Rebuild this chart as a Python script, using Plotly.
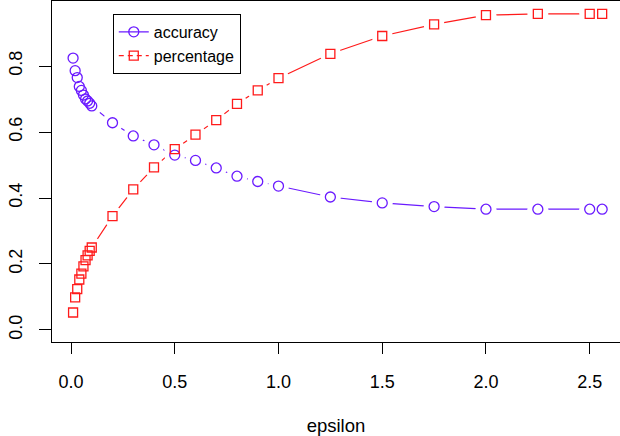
import plotly.graph_objects as go

epsilon = [0.01, 0.02, 0.03, 0.04, 0.05, 0.06, 0.07, 0.08, 0.09, 0.1,
           0.2, 0.3, 0.4, 0.5, 0.6, 0.7, 0.8, 0.9, 1.0,
           1.25, 1.5, 1.75, 2.0, 2.25, 2.5, 2.56]
accuracy = [0.824, 0.786, 0.765, 0.738, 0.726, 0.712, 0.700, 0.694, 0.687, 0.679,
            0.628, 0.588, 0.561, 0.530, 0.514, 0.491, 0.466, 0.450, 0.436,
            0.403, 0.385, 0.374, 0.366, 0.366, 0.366, 0.366]
percentage = [0.053, 0.099, 0.124, 0.153, 0.171, 0.193, 0.212, 0.226, 0.240, 0.250,
              0.345, 0.426, 0.493, 0.548, 0.592, 0.636, 0.685, 0.726, 0.763,
              0.837, 0.891, 0.926, 0.954, 0.958, 0.958, 0.958]
x_ticks = [0.0, 0.5, 1.0, 1.5, 2.0, 2.5]
x_ticklabels = ["0.0", "0.5", "1.0", "1.5", "2.0", "2.5"]
y_ticks = [0.0, 0.2, 0.4, 0.6, 0.8]
y_ticklabels = ["0.0", "0.2", "0.4", "0.6", "0.8"]

BLUE = "#6A1AFF"
RED = "#FF1A1A"
FONT = "Liberation Sans, Arial, sans-serif"

fig = go.Figure()
# connecting lines
fig.add_trace(go.Scatter(x=epsilon, y=accuracy, mode="lines",
                         line=dict(color=BLUE, width=1.2), showlegend=False, hoverinfo="skip"))
fig.add_trace(go.Scatter(x=epsilon, y=percentage, mode="lines",
                         line=dict(color=RED, width=1.2), showlegend=False, hoverinfo="skip"))
# white gaps around points (type "b" look)
for ys in (accuracy, percentage):
    fig.add_trace(go.Scatter(x=epsilon, y=ys, mode="markers",
                             marker=dict(symbol="circle", size=21, color="white", line=dict(width=0)),
                             showlegend=False, hoverinfo="skip"))
# point symbols
fig.add_trace(go.Scatter(x=epsilon, y=accuracy, mode="markers",
                         marker=dict(symbol="circle-open", size=10, color=BLUE, line=dict(width=1.3)),
                         showlegend=False))
fig.add_trace(go.Scatter(x=epsilon, y=percentage, mode="markers",
                         marker=dict(symbol="square-open", size=9, color=RED, line=dict(width=1.3)),
                         showlegend=False))
# legend entries
fig.add_trace(go.Scatter(x=[None], y=[None], mode="lines+markers", name="accuracy",
                         line=dict(color=BLUE, width=1.2),
                         marker=dict(symbol="circle-open", size=10, color=BLUE, line=dict(width=1.3))))
fig.add_trace(go.Scatter(x=[None], y=[None], mode="lines+markers", name="percentage",
                         line=dict(color=RED, width=1.2, dash="5px,4px"),
                         marker=dict(symbol="square-open", size=9, color=RED, line=dict(width=1.3))))

fig.update_layout(
    width=620, height=436,
    margin=dict(l=52, r=0, t=1, b=94),
    paper_bgcolor="white", plot_bgcolor="white",
    font=dict(family=FONT, size=18, color="black"),
    legend=dict(x=0.107, y=0.962, xanchor="left", yanchor="top",
                bordercolor="black", borderwidth=1, bgcolor="white",
                font=dict(size=16), itemwidth=30, tracegroupgap=0),
    xaxis=dict(range=[-0.0916, 2.646], tickvals=x_ticks, ticktext=x_ticklabels,
               ticks="outside", ticklen=11, tickwidth=1, tickcolor="black",
               showline=True, linecolor="black", linewidth=1, mirror=True,
               showgrid=False, zeroline=False, ticklabelstandoff=12,
               title=dict(text="epsilon", standoff=28, font=dict(size=18.5))),
    yaxis=dict(range=[-0.0364, 0.997], tickvals=y_ticks, ticktext=y_ticklabels,
               ticks="outside", ticklen=12, tickwidth=1, tickcolor="black",
               showline=True, linecolor="black", linewidth=1, mirror=False,
               showgrid=False, zeroline=False, tickangle=-90, ticklabelstandoff=10),
)

fig.write_html("out.html")
